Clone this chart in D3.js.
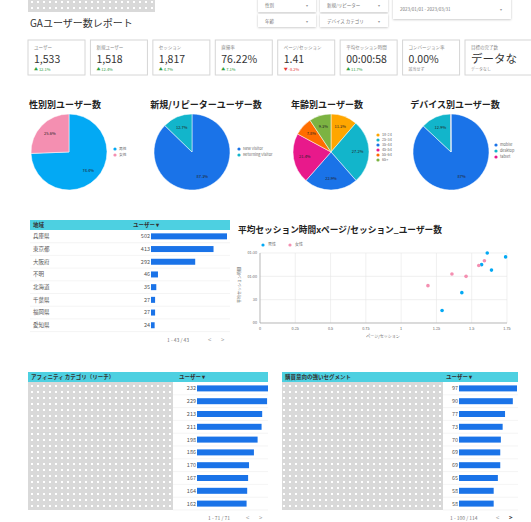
<!DOCTYPE html>
<meta charset="utf-8">
<script src="https://cdn.jsdelivr.net/npm/d3@7"></script>
<style>
body { margin: 0; background: #fff; }
text { font-family: "Noto Sans CJK JP", "Noto Sans", sans-serif; }
</style>
<body>
<script>

// data
var filterRows = [["性別", "新規/リピーター"], ["年齢", "デバイス カテゴリ"]];
var dateRange = "2023/01/01 - 2023/03/31";

var kpiLabels = ["ユーザー", "新規ユーザー", "セッション", "直帰率", "ページ/セッション", "平均セッション時間", "コンバージョン率", "目標の完了数"];
var kpiValues = ["1,533", "1,518", "1,817", "76.22%", "1.41", "00:00:58", "0.00%", "データなし"];
var kpiDeltas = ["▲ 12.1%", "▲ 12.4%", "▲ 4.7%", "▲ 7.1%", "▼ -8.2%", "▲ 11.7%", "該当せず", "データなし"];
var kpiDeltaType = ["up", "up", "up", "up", "down", "up", "none", "none"];

var genderLabels = ["男性", "女性"];
var genderValues = [74.4, 25.6];
var visitorLabels = ["New Visitor", "Returning Visitor"];
var visitorValues = [87.3, 12.7];
var ageLabels = ["18-24", "25-34", "35-44", "45-54", "55-64", "65+"];
var ageValues = [11.3, 27.2, 22.9, 21.4, 7.8, 9.3];
var deviceLabels = ["mobile", "desktop", "tablet"];
var deviceValues = [87, 12.9, 0.1];

var regionNames = ["兵庫県", "東京都", "大阪府", "不明", "北海道", "千葉県", "福岡県", "愛知県"];
var regionUsers = [502, 413, 292, 46, 35, 27, 27, 24];

var maleX = [1.61, 1.74, 1.57, 1.64, 1.43, 1.29];
var maleY = [90, 85, 75, 68, 39, 16];
var femaleX = [1.59, 1.55, 1.36, 1.46, 1.19];
var femaleY = [80, 74, 63, 60, 48];
var xTicks = [0, 0.25, 0.5, 0.75, 1, 1.25, 1.5, 1.75];
var yTicks = [0, 30, 60, 90];
var yTickLabels = ["00", "30", "01:00", "01:30"];

var affinityUsers = [232, 229, 213, 211, 198, 186, 170, 167, 164, 162];
var inMarketUsers = [97, 90, 77, 73, 70, 69, 69, 65, 58, 58];

var svg = d3.select("body").append("svg")
    .attr("width", 531)
    .attr("height", 522);

var defs = svg.append("defs");
var pat = defs.append("pattern").attr("id", "dots")
    .attr("width", 6).attr("height", 6).attr("patternUnits", "userSpaceOnUse");
pat.append("rect").attr("width", 6).attr("height", 6).attr("fill", "#d9d9d9");
pat.append("rect").attr("x", 1).attr("y", 1).attr("width", 2).attr("height", 2).attr("fill", "#fff");
var shadow = defs.append("filter").attr("id", "shadow").attr("x", "-10%").attr("y", "-30%").attr("width", "120%").attr("height", "170%");
shadow.append("feDropShadow").attr("dx", 0).attr("dy", 0.6).attr("stdDeviation", 0.8).attr("flood-color", "#000").attr("flood-opacity", 0.25);

// header
svg.append("rect").attr("x", 28).attr("y", 0).attr("width", 127).attr("height", 12).attr("fill", "url(#dots)");
svg.append("text").attr("x", 30).attr("y", 27).attr("font-size", 10).attr("fill", "#333").text("GAユーザー数レポート");

filterRows.forEach(function(row, r) {
    row.forEach(function(name, c) {
        var x = c == 0 ? 258 : 320, w = c == 0 ? 58 : 68, y = r == 0 ? -2 : 14;
        svg.append("rect").attr("x", x).attr("y", y).attr("width", w).attr("height", r == 0 ? 14 : 13)
            .attr("fill", "#fff").attr("filter", "url(#shadow)");
        svg.append("text").attr("x", x + 7).attr("y", y + 9).attr("font-size", 4.5).attr("fill", "#777").text(name);
        svg.append("text").attr("x", x + w - 10).attr("y", y + 9).attr("font-size", 4).attr("fill", "#999").text("▾");
    });
});
svg.append("rect").attr("x", 393).attr("y", -2).attr("width", 118).attr("height", 21)
    .attr("fill", "#fff").attr("filter", "url(#shadow)");
svg.append("text").attr("x", 400).attr("y", 11).attr("font-size", 4.5).attr("fill", "#777").text(dateRange);
svg.append("text").attr("x", 500).attr("y", 11).attr("font-size", 4).attr("fill", "#999").text("▾");

// KPI cards
var kpiX = d3.scaleLinear().domain([0, 7]).range([28, 465]);
kpiLabels.forEach(function(label, i) {
    var x = kpiX(i), w = i == 7 ? 80 : 57;
    var g = svg.append("g").attr("transform", "translate(" + x + ",40)");
    g.append("rect").attr("width", w).attr("height", 35).attr("fill", "#fff").attr("stroke", "#d6d6d6").attr("stroke-width", 1);
    g.append("text").attr("x", 6).attr("y", 9).attr("font-size", 4.5).attr("fill", "#888").text(label);
    var clip = defs.append("clipPath").attr("id", "kc" + i);
    clip.append("rect").attr("width", i == 7 ? 52 : w - 2).attr("height", 35);
    g.append("text").attr("x", 6).attr("y", 23).attr("font-size", i == 7 ? 11.5 : 10.5).attr("fill", "#333")
        .attr("clip-path", "url(#kc" + i + ")").text(kpiValues[i]);
    var col = kpiDeltaType[i] == "up" ? "#2e9e3e" : kpiDeltaType[i] == "down" ? "#e53935" : "#888";
    g.append("text").attr("x", 6).attr("y", 30.5).attr("font-size", 4).attr("fill", col).text(kpiDeltas[i]);
});

// pie charts
var pieColors = {
    gender: ["#03a9f4", "#f48fb1"],
    visitor: ["#1a73e8", "#12b5cb"],
    age: ["#ffa600", "#12b5cb", "#1a73e8", "#e8198b", "#ff6d00", "#7cb342"],
    device: ["#1a73e8", "#12b5cb", "#e8198b"]
};
var pies = [
    {title: "性別別ユーザー数", tx: 65, cx: 69, labels: genderLabels, values: genderValues, colors: pieColors.gender, lx: 115, ly: 149, ls: 6},
    {title: "新規/リピーターユーザー数", tx: 206, cx: 192, labels: visitorLabels, values: visitorValues, colors: pieColors.visitor, lx: 239, ly: 149, ls: 6},
    {title: "年齢別ユーザー数", tx: 327, cx: 331, labels: ageLabels, values: ageValues, colors: pieColors.age, lx: 378, ly: 135, ls: 5},
    {title: "デバイス別ユーザー数", tx: 455, cx: 451, labels: deviceLabels, values: deviceValues, colors: pieColors.device, lx: 496, ly: 145, ls: 6}
];
var r = 38;
var arc = d3.arc().innerRadius(0).outerRadius(r);
var labelArc = d3.arc().innerRadius(r * 0.7).outerRadius(r * 0.7);
var pie = d3.pie().sort(null);
pies.forEach(function(p) {
    svg.append("text").attr("x", p.tx).attr("y", 108).attr("text-anchor", "middle")
        .attr("font-size", 9).attr("font-weight", "bold").attr("fill", "#222").text(p.title);
    var g = svg.append("g").attr("transform", "translate(" + p.cx + ",152)");
    var arcs = pie(p.values);
    g.selectAll("path").data(arcs).enter().append("path")
        .attr("d", arc).attr("fill", function(d, i) { return p.colors[i]; })
        .attr("stroke", "#fff").attr("stroke-width", 0.5);
    g.selectAll("text").data(arcs.filter(function(d) { return d.data >= 5; })).enter().append("text")
        .attr("transform", function(d) { return "translate(" + labelArc.centroid(d) + ")"; })
        .attr("text-anchor", "middle").attr("dy", "0.35em")
        .attr("font-size", 4).attr("fill", "#222").text(function(d) { return d.data + "%"; });
    var lg = svg.append("g");
    p.labels.forEach(function(l, i) {
        lg.append("circle").attr("cx", p.lx).attr("cy", p.ly + i * p.ls).attr("r", 1.6).attr("fill", p.colors[i]);
        lg.append("text").attr("x", p.lx + 4).attr("y", p.ly + i * p.ls).attr("dy", "0.35em")
            .attr("font-size", 3.8).attr("fill", "#666").text(l);
    });
});

// tables
function drawTable(opts) {
    var g = svg.append("g");
    g.append("rect").attr("x", opts.x).attr("y", opts.y).attr("width", opts.w).attr("height", 10).attr("fill", "#4dd0e1");
    g.append("text").attr("x", opts.x + 3).attr("y", opts.y + 7).attr("font-size", 5.5).attr("font-weight", "bold").attr("fill", "#333").text(opts.head);
    g.append("text").attr("x", opts.userX).attr("y", opts.y + 7).attr("font-size", 5.5).attr("font-weight", "bold").attr("fill", "#333").text("ユーザー ▾");
    var rowY = d3.scaleBand().domain(d3.range(opts.values.length))
        .range([opts.y + 10, opts.y + 10 + opts.rowH * opts.values.length]);
    var bx = d3.scaleLinear().domain([0, d3.max(opts.values)]).range([0, opts.barW]);
    if (opts.names) {
        g.selectAll(".nm").data(opts.names).enter().append("text")
            .attr("x", opts.x + 3).attr("y", function(d, i) { return rowY(i) + rowY.bandwidth() / 2; })
            .attr("dy", "0.35em").attr("font-size", 5.5).attr("fill", "#555").text(String);
    } else {
        g.append("rect").attr("x", opts.x).attr("y", opts.y + 10).attr("width", opts.patW)
            .attr("height", opts.rowH * opts.values.length).attr("fill", "url(#dots)");
    }
    g.selectAll(".sep").data(opts.values).enter().append("line")
        .attr("x1", opts.names ? opts.x : opts.x + opts.patW).attr("x2", opts.x + opts.w)
        .attr("y1", function(d, i) { return rowY(i) + rowY.bandwidth(); })
        .attr("y2", function(d, i) { return rowY(i) + rowY.bandwidth(); })
        .attr("stroke", "#ececec").attr("stroke-width", 0.6);
    g.selectAll(".val").data(opts.values).enter().append("text")
        .attr("x", opts.barX - 1).attr("y", function(d, i) { return rowY(i) + rowY.bandwidth() / 2; })
        .attr("dy", "0.35em").attr("text-anchor", "end").attr("font-size", 5.5).attr("fill", "#555").text(String);
    g.selectAll(".bar").data(opts.values).enter().append("rect")
        .attr("x", opts.barX).attr("y", function(d, i) { return rowY(i) + rowY.bandwidth() / 2 - 3; })
        .attr("width", bx).attr("height", 6).attr("fill", "#1a73e8");
    var py = opts.y + 10 + opts.rowH * opts.values.length + 10;
    g.append("text").attr("x", opts.pageX).attr("y", py).attr("font-size", 5).attr("fill", "#777").text(opts.page);
    g.append("text").attr("x", opts.x + opts.w - 22).attr("y", py).attr("font-size", 6).attr("fill", "#999").text("<");
    g.append("text").attr("x", opts.x + opts.w - 9).attr("y", py).attr("font-size", 6)
        .attr("font-weight", opts.nextBold ? "bold" : "normal").attr("fill", opts.nextBold ? "#333" : "#999").text(">");
}

drawTable({x: 30, y: 220, w: 200, head: "地域", userX: 133, names: regionNames, values: regionUsers,
    rowH: 12.7, barX: 151, barW: 76, page: "1 - 43 / 43", pageX: 167, nextBold: false});
drawTable({x: 28, y: 372, w: 240, head: "アフィニティ カテゴリ（リーチ）", userX: 179, values: affinityUsers, patW: 145,
    rowH: 12.8, barX: 197, barW: 71, page: "1 - 71 / 71", pageX: 208, nextBold: false});
drawTable({x: 282, y: 372, w: 236, head: "購買意向の強いセグメント", userX: 446, values: inMarketUsers, patW: 161,
    rowH: 12.8, barX: 459, barW: 58, page: "1 - 100 / 114", pageX: 450, nextBold: true});

// scatter
var sx = d3.scaleLinear().domain([0, 1.75]).range([260, 507]);
var sy = d3.scaleLinear().domain([0, 90]).range([323, 253]);
svg.append("text").attr("x", 238).attr("y", 233).attr("font-size", 8.7).attr("font-weight", "bold").attr("fill", "#222")
    .text("平均セッション時間xページ/セッション_ユーザー数");
[["男性", "#03a9f4", 263], ["女性", "#f48fb1", 290]].forEach(function(l) {
    svg.append("circle").attr("cx", l[2]).attr("cy", 245).attr("r", 1.6).attr("fill", l[1]);
    svg.append("text").attr("x", l[2] + 5).attr("y", 245).attr("dy", "0.35em").attr("font-size", 4).attr("fill", "#666").text(l[0]);
});
var grid = svg.append("g");
grid.selectAll(".vx").data(xTicks).enter().append("line")
    .attr("x1", sx).attr("x2", sx).attr("y1", sy(90)).attr("y2", sy(0))
    .attr("stroke", "#e6e6e6").attr("stroke-width", 0.6);
grid.selectAll(".hy").data(yTicks).enter().append("line")
    .attr("x1", sx(0)).attr("x2", sx(1.75)).attr("y1", sy).attr("y2", sy)
    .attr("stroke", "#e6e6e6").attr("stroke-width", 0.6);
svg.append("line").attr("x1", sx(0)).attr("x2", sx(1.75)).attr("y1", sy(0)).attr("y2", sy(0)).attr("stroke", "#999").attr("stroke-width", 0.6);
svg.append("line").attr("x1", sx(0)).attr("x2", sx(0)).attr("y1", sy(0)).attr("y2", sy(90)).attr("stroke", "#999").attr("stroke-width", 0.6);
svg.selectAll(".xt").data(xTicks).enter().append("text")
    .attr("x", sx).attr("y", 330).attr("text-anchor", "middle").attr("font-size", 3.8).attr("fill", "#666").text(String);
svg.selectAll(".yt").data(yTicks).enter().append("text")
    .attr("x", sx(0) - 3).attr("y", sy).attr("dy", "0.35em").attr("text-anchor", "end")
    .attr("font-size", 3.8).attr("fill", "#666").text(function(d, i) { return yTickLabels[i]; });
svg.append("text").attr("x", 383).attr("y", 338).attr("text-anchor", "middle").attr("font-size", 4).attr("fill", "#666").text("ページ/セッション");
svg.append("text").attr("transform", "translate(241,285) rotate(-90)").attr("text-anchor", "middle")
    .attr("font-size", 4).attr("fill", "#666").text("平均セッション時間");
svg.selectAll(".male").data(maleX).enter().append("circle")
    .attr("cx", sx).attr("cy", function(d, i) { return sy(maleY[i]); }).attr("r", 1.8).attr("fill", "#03a9f4");
svg.selectAll(".female").data(femaleX).enter().append("circle")
    .attr("cx", sx).attr("cy", function(d, i) { return sy(femaleY[i]); }).attr("r", 1.8).attr("fill", "#f48fb1");

</script>
</body>
</html>
